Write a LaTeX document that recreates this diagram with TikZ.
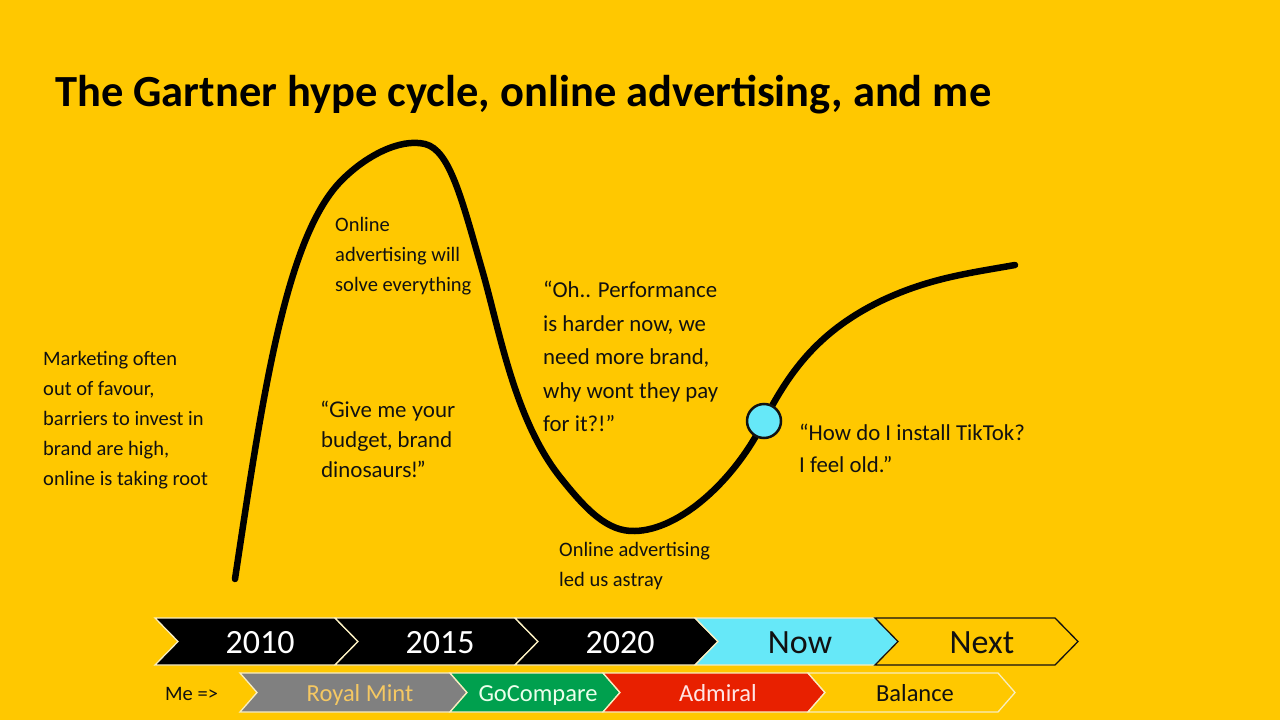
\documentclass[tikz,border=0pt]{standalone}
\usepackage{fontspec}
\setmainfont{Carlito}
\newfontfamily\corbel{Lato}
\definecolor{bg}{HTML}{FFC800}
\definecolor{nowcyan}{HTML}{66E8F8}
\definecolor{gcgreen}{HTML}{00A04E}
\definecolor{admred}{HTML}{E82000}
\definecolor{rmgray}{HTML}{808080}
\definecolor{rmgold}{HTML}{F5C862}
\definecolor{cream}{HTML}{F8EDC0}
\definecolor{ink}{HTML}{111111}
\newcommand{\chevshape}[7]{%
  \filldraw[fill=#6,draw=#7,line width=1.3pt,line join=miter]
    (#1,#3) -- (#2,#3) -- ({#2+#5},{(#3+#4)/2}) -- (#2,#4) -- (#1,#4)
    -- ({#1+#5},{(#3+#4)/2}) -- cycle;}
\begin{document}
\begin{tikzpicture}[x=1pt,y=-1pt,
  body/.style={font=\fontsize{20.5}{30}\selectfont, text=ink, align=left, anchor=north west, inner sep=0pt},
  quote/.style={font=\fontsize{22.8}{33.5}\selectfont, text=ink, align=left, anchor=north west, inner sep=0pt},
  yeartext/.style={font=\fontsize{34}{34}\selectfont, inner sep=0pt, anchor=base},
  firmtext/.style={font=\fontsize{24.5}{24.5}\selectfont, inner sep=0pt, anchor=base},
  hype/.style={line width=6.5pt, line cap=round, line join=round}]
\useasboundingbox (0,0) rectangle (1280,720);
\fill[bg] (0,0) rectangle (1280,720);

% title
\node[anchor=base west, inner sep=0pt, font=\fontsize{44.5}{44.5}\selectfont\bfseries] (title) at (55,106)
  {The Gartner hype cycle, online advertising, and me};

% hype curve
\coordinate (c0) at (235,579);
\coordinate (c1) at (340,182);
\coordinate (c2) at (425,144);
\coordinate (c3) at (483,273);
\coordinate (c4) at (560,477);
\coordinate (c5) at (635,531);
\coordinate (c6) at (764,421);
\coordinate (c7) at (883,300);
\coordinate (c8) at (1015,265);
\draw[hype] (c0) .. controls (262,400) and (285,240) .. (c1)
  .. controls (365,156) and (400,138) .. (c2)
  .. controls (450,150) and (462,200) .. (c3)
  .. controls (500,333) and (515,420) .. (c4)
  .. controls (587,511) and (608,532) .. (c5)
  .. controls (680,530) and (735,480) .. (c6)
  .. controls (790,370) and (820,330) .. (c7)
  .. controls (930,278) and (970,273) .. (c8);
\node[circle, minimum size=34pt, inner sep=0pt, fill=nowcyan, draw=ink, line width=2.5pt] (now) at (c6) {};

% labels
\node[body] (mkt) at (43,351) {Marketing often\\out of favour,\\barriers to invest in\\brand are high,\\online is taking root};
\node[body] (solve) at (335,217) {Online\\advertising will\\solve everything};
\node[body, font=\corbel\fontsize{21.5}{30}\selectfont] (give) at (321,401) {“Give me your\\budget, brand\\dinosaurs!”};
\node[quote] (perf) at (543,281) {“Oh.. Performance\\is harder now, we\\need more brand,\\why wont they pay\\for it?!”};
\node[body] (astray) at (559,542) {Online advertising\\led us astray};
\node[quote, font=\fontsize{22.8}{32}\selectfont] (tiktok) at (799,424) {“How do I install TikTok?\\I feel old.”};

% timeline
\chevshape{155}{335}{618}{665}{23}{black}{cream}
\chevshape{335}{515}{618}{665}{23}{black}{cream}
\chevshape{515}{695}{618}{665}{23}{black}{cream}
\chevshape{695}{875}{618}{665}{23}{nowcyan}{cream}
\chevshape{875}{1055}{618}{665}{23}{bg}{ink}
\node[yeartext, text=white] (y2010) at (260,653) {2010};
\node[yeartext, text=white] (y2015) at (440,653) {2015};
\node[yeartext, text=white] (y2020) at (620,653) {2020};
\node[yeartext, text=ink] (ynow) at (800,653) {Now};
\node[yeartext, text=ink] (ynext) at (982,653) {Next};

% me row
\node[anchor=base west, inner sep=0pt, font=\fontsize{20.5}{20.5}\selectfont, text=ink] (me) at (165,700) {Me =>};
\chevshape{240}{450}{673}{712}{17}{rmgray}{cream}
\chevshape{450}{603}{673}{712}{17}{gcgreen}{cream}
\chevshape{603}{808}{673}{712}{17}{admred}{cream}
\chevshape{808}{998}{673}{712}{17}{bg}{cream}
\node[firmtext, text=rmgold] (rm) at (360,701) {Royal Mint};
\node[firmtext, text=white!92!green] (gc) at (538,701) {GoCompare};
\node[firmtext, text=white!90!red] (adm) at (718,701) {Admiral};
\node[firmtext, text=ink] (bal) at (915,701) {Balance};
\end{tikzpicture}
\end{document}
